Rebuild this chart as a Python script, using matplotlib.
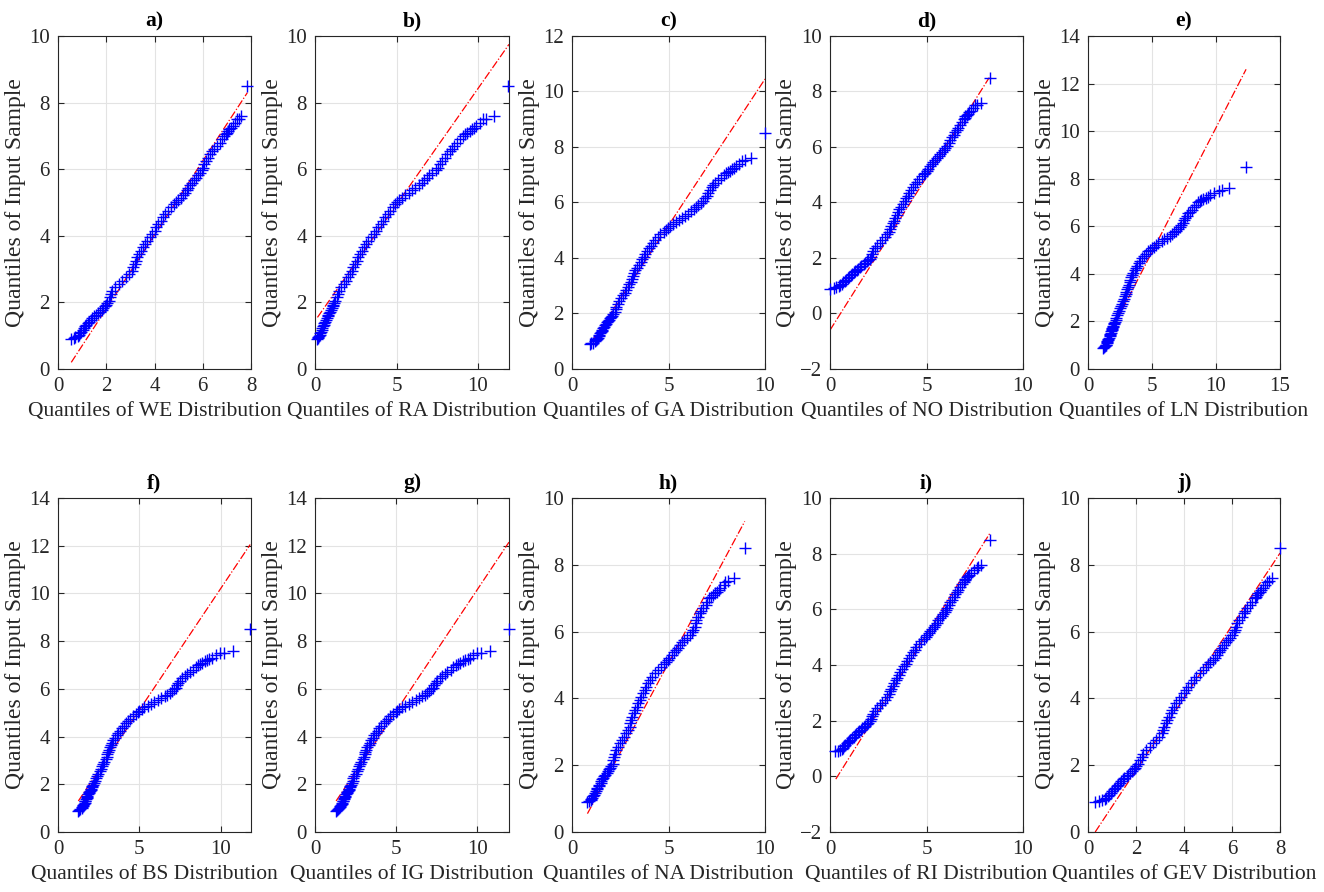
import matplotlib
matplotlib.use('Agg')
import matplotlib.pyplot as plt
import numpy as np

plt.rcParams['font.family'] = ['Liberation Serif', 'DejaVu Serif']

# sorted sample quantiles (shared by all panels)
sample_q = [0.90, 0.92, 0.95, 1.00, 1.03, 1.08, 1.12, 1.18, 1.22, 1.28,
            1.32, 1.38, 1.42, 1.48, 1.52, 1.58, 1.62, 1.68, 1.72, 1.78,
            1.82, 1.88, 1.92, 1.98, 2.05, 2.15, 2.25, 2.35, 2.45, 2.55,
            2.65, 2.75, 2.85, 2.95, 3.05, 3.15, 3.25, 3.35, 3.45, 3.55,
            3.65, 3.75, 3.85, 3.95, 4.05, 4.15, 4.25, 4.35, 4.45, 4.55,
            4.65, 4.75, 4.85, 4.95, 5.02, 5.08, 5.15, 5.22, 5.30, 5.38,
            5.45, 5.52, 5.60, 5.68, 5.75, 5.82, 5.90, 5.98, 6.05, 6.15,
            6.25, 6.35, 6.45, 6.55, 6.62, 6.70, 6.80, 6.90, 7.00, 7.05,
            7.10, 7.15, 7.20, 7.25, 7.30, 7.40, 7.50, 7.52, 7.60, 8.50]

# theoretical quantiles for each distribution (same order as sample_q)
q_we = [0.55, 0.65, 0.72, 0.82, 0.88, 0.93, 0.97, 1.02, 1.06, 1.12,
        1.17, 1.23, 1.28, 1.36, 1.42, 1.51, 1.57, 1.66, 1.73, 1.82,
        1.87, 1.93, 1.97, 2.03, 2.1, 2.15, 2.18, 2.25, 2.38, 2.52,
        2.67, 2.82, 2.95, 3.05, 3.12, 3.18, 3.23, 3.28, 3.35, 3.43,
        3.51, 3.59, 3.7, 3.8, 3.9, 4.0, 4.07, 4.15, 4.25, 4.35,
        4.45, 4.56, 4.68, 4.82, 4.91, 4.99, 5.08, 5.17, 5.25, 5.33,
        5.4, 5.47, 5.55, 5.64, 5.73, 5.82, 5.9, 5.97, 6.02, 6.07,
        6.12, 6.2, 6.3, 6.4, 6.48, 6.58, 6.7, 6.8, 6.9, 6.95,
        7.0, 7.05, 7.1, 7.17, 7.25, 7.32, 7.4, 7.5, 7.6, 7.85]
q_ra = [0.12, 0.17, 0.2, 0.25, 0.28, 0.33, 0.37, 0.41, 0.45, 0.5,
        0.53, 0.58, 0.62, 0.67, 0.71, 0.77, 0.81, 0.87, 0.91, 0.97,
        1.02, 1.08, 1.12, 1.18, 1.24, 1.32, 1.4, 1.5, 1.62, 1.75,
        1.88, 2.0, 2.12, 2.25, 2.35, 2.45, 2.55, 2.65, 2.75, 2.87,
        3.0, 3.12, 3.28, 3.43, 3.62, 3.75, 3.88, 4.02, 4.17, 4.32,
        4.47, 4.62, 4.78, 4.93, 5.03, 5.15, 5.35, 5.55, 5.75, 5.95,
        6.15, 6.35, 6.55, 6.7, 6.85, 7.0, 7.2, 7.4, 7.52, 7.65,
        7.8, 7.95, 8.12, 8.28, 8.38, 8.5, 8.7, 8.9, 9.1, 9.22,
        9.35, 9.5, 9.65, 9.78, 9.9, 10.1, 10.3, 10.5, 10.95, 11.85]
q_ga = [0.95, 1.0, 1.08, 1.18, 1.22, 1.28, 1.33, 1.38, 1.41, 1.46,
        1.5, 1.54, 1.57, 1.62, 1.66, 1.72, 1.76, 1.82, 1.86, 1.92,
        1.96, 2.02, 2.06, 2.15, 2.22, 2.27, 2.3, 2.36, 2.45, 2.55,
        2.65, 2.75, 2.82, 2.9, 2.97, 3.05, 3.12, 3.18, 3.22, 3.28,
        3.36, 3.45, 3.55, 3.65, 3.72, 3.8, 3.88, 3.97, 4.08, 4.2,
        4.32, 4.45, 4.58, 4.75, 4.88, 4.98, 5.1, 5.25, 5.4, 5.55,
        5.7, 5.85, 6.0, 6.15, 6.3, 6.42, 6.53, 6.67, 6.78, 6.88,
        6.98, 7.05, 7.15, 7.25, 7.32, 7.42, 7.55, 7.7, 7.9, 8.0,
        8.1, 8.2, 8.3, 8.4, 8.5, 8.65, 8.8, 8.95, 9.25, 10.0]
q_no = [0.0, 0.2, 0.3, 0.45, 0.52, 0.62, 0.68, 0.76, 0.82, 0.92,
        0.98, 1.08, 1.14, 1.25, 1.32, 1.4, 1.46, 1.55, 1.62, 1.75,
        1.82, 1.92, 1.98, 2.05, 2.12, 2.18, 2.24, 2.32, 2.45, 2.6,
        2.72, 2.85, 2.95, 3.05, 3.12, 3.18, 3.25, 3.3, 3.38, 3.45,
        3.53, 3.6, 3.7, 3.8, 3.88, 3.95, 4.02, 4.1, 4.2, 4.3,
        4.4, 4.5, 4.62, 4.75, 4.85, 4.93, 5.02, 5.1, 5.2, 5.28,
        5.35, 5.45, 5.55, 5.64, 5.72, 5.8, 5.9, 5.98, 6.05, 6.15,
        6.22, 6.3, 6.4, 6.5, 6.56, 6.62, 6.72, 6.82, 6.92, 6.97,
        7.02, 7.08, 7.14, 7.22, 7.3, 7.4, 7.5, 7.6, 7.8, 8.3]
q_ln = [1.2, 1.27, 1.33, 1.4, 1.43, 1.47, 1.49, 1.52, 1.55, 1.6,
        1.63, 1.68, 1.71, 1.74, 1.76, 1.82, 1.85, 1.88, 1.91, 1.96,
        1.99, 2.03, 2.06, 2.1, 2.17, 2.22, 2.27, 2.34, 2.4, 2.48,
        2.57, 2.65, 2.72, 2.8, 2.88, 2.95, 3.0, 3.05, 3.1, 3.17,
        3.25, 3.3, 3.38, 3.45, 3.55, 3.65, 3.75, 3.85, 3.98, 4.1,
        4.25, 4.4, 4.55, 4.72, 4.85, 4.97, 5.15, 5.3, 5.5, 5.75,
        5.95, 6.2, 6.4, 6.6, 6.75, 6.9, 7.05, 7.18, 7.28, 7.4,
        7.48, 7.55, 7.7, 7.85, 7.98, 8.12, 8.3, 8.45, 8.6, 8.72,
        8.85, 9.0, 9.2, 9.35, 9.5, 9.85, 10.2, 10.5, 11.0, 12.35]
q_bs = [1.25, 1.32, 1.38, 1.45, 1.48, 1.52, 1.56, 1.6, 1.63, 1.66,
        1.68, 1.73, 1.76, 1.78, 1.81, 1.86, 1.9, 1.93, 1.96, 2.02,
        2.05, 2.08, 2.11, 2.16, 2.22, 2.28, 2.33, 2.4, 2.47, 2.55,
        2.62, 2.7, 2.77, 2.85, 2.92, 2.98, 3.03, 3.08, 3.13, 3.2,
        3.27, 3.33, 3.4, 3.5, 3.6, 3.7, 3.8, 3.92, 4.03, 4.17,
        4.3, 4.45, 4.6, 4.78, 4.92, 5.0, 5.15, 5.3, 5.5, 5.72,
        5.92, 6.15, 6.35, 6.55, 6.7, 6.85, 7.0, 7.12, 7.22, 7.3,
        7.38, 7.48, 7.62, 7.78, 7.95, 8.1, 8.3, 8.45, 8.6, 8.72,
        8.85, 9.0, 9.15, 9.3, 9.45, 9.7, 9.95, 10.2, 10.75, 11.8]
q_ig = [1.3, 1.37, 1.43, 1.5, 1.53, 1.57, 1.6, 1.64, 1.67, 1.71,
        1.73, 1.77, 1.8, 1.84, 1.87, 1.91, 1.95, 1.98, 2.02, 2.07,
        2.1, 2.13, 2.17, 2.2, 2.26, 2.32, 2.37, 2.43, 2.5, 2.57,
        2.64, 2.71, 2.78, 2.86, 2.93, 2.99, 3.05, 3.1, 3.16, 3.23,
        3.3, 3.37, 3.45, 3.55, 3.65, 3.75, 3.86, 3.97, 4.08, 4.22,
        4.37, 4.5, 4.65, 4.83, 4.97, 5.05, 5.2, 5.35, 5.55, 5.77,
        5.97, 6.2, 6.4, 6.6, 6.75, 6.9, 7.05, 7.17, 7.27, 7.35,
        7.43, 7.53, 7.68, 7.85, 8.0, 8.15, 8.35, 8.5, 8.7, 8.82,
        8.95, 9.1, 9.25, 9.4, 9.55, 9.75, 10.0, 10.25, 10.8, 11.95]
q_na = [0.8, 0.9, 0.97, 1.0, 1.03, 1.08, 1.12, 1.18, 1.22, 1.28,
        1.32, 1.38, 1.42, 1.48, 1.52, 1.58, 1.62, 1.68, 1.73, 1.82,
        1.87, 1.93, 1.97, 2.03, 2.1, 2.15, 2.18, 2.23, 2.3, 2.38,
        2.48, 2.6, 2.72, 2.82, 2.92, 2.98, 3.03, 3.08, 3.13, 3.2,
        3.28, 3.35, 3.43, 3.5, 3.6, 3.7, 3.77, 3.85, 3.95, 4.05,
        4.15, 4.3, 4.45, 4.6, 4.75, 4.85, 4.95, 5.05, 5.18, 5.3,
        5.38, 5.47, 5.58, 5.7, 5.8, 5.95, 6.1, 6.2, 6.28, 6.35,
        6.4, 6.45, 6.52, 6.62, 6.7, 6.8, 6.92, 7.02, 7.12, 7.2,
        7.3, 7.4, 7.5, 7.6, 7.68, 7.85, 7.95, 8.1, 8.4, 8.95]
q_ri = [0.25, 0.4, 0.5, 0.6, 0.65, 0.72, 0.8, 0.87, 0.92, 1.0,
        1.06, 1.15, 1.22, 1.3, 1.37, 1.45, 1.5, 1.6, 1.65, 1.75,
        1.82, 1.92, 1.98, 2.06, 2.12, 2.18, 2.24, 2.32, 2.45, 2.6,
        2.72, 2.85, 2.95, 3.05, 3.12, 3.18, 3.25, 3.32, 3.4, 3.48,
        3.55, 3.63, 3.73, 3.83, 3.92, 4.0, 4.08, 4.18, 4.28, 4.38,
        4.48, 4.6, 4.72, 4.85, 4.95, 5.02, 5.12, 5.2, 5.3, 5.38,
        5.45, 5.52, 5.6, 5.7, 5.78, 5.85, 5.95, 6.03, 6.08, 6.16,
        6.22, 6.3, 6.4, 6.5, 6.56, 6.63, 6.72, 6.82, 6.92, 6.97,
        7.02, 7.08, 7.14, 7.22, 7.3, 7.45, 7.6, 7.65, 7.8, 8.3]
q_gev = [0.3, 0.45, 0.6, 0.7, 0.75, 0.82, 0.88, 0.95, 1.0, 1.08,
         1.12, 1.2, 1.25, 1.33, 1.38, 1.46, 1.52, 1.62, 1.67, 1.75,
         1.82, 1.9, 1.95, 2.02, 2.1, 2.18, 2.23, 2.3, 2.42, 2.58,
         2.72, 2.85, 2.97, 3.07, 3.13, 3.18, 3.23, 3.28, 3.36, 3.44,
         3.51, 3.58, 3.68, 3.78, 3.88, 3.98, 4.08, 4.18, 4.28, 4.4,
         4.52, 4.65, 4.78, 4.92, 5.02, 5.1, 5.2, 5.3, 5.38, 5.45,
         5.52, 5.58, 5.65, 5.73, 5.82, 5.92, 6.02, 6.08, 6.12, 6.17,
         6.22, 6.3, 6.4, 6.5, 6.56, 6.64, 6.74, 6.85, 6.95, 7.0,
         7.05, 7.1, 7.15, 7.22, 7.3, 7.38, 7.45, 7.55, 7.65, 8.0]

# reference line end points (x0, y0, x1, y1)
ref_lines = [(0.55, 0.2, 7.85, 8.3), (0.15, 1.55, 11.9, 9.75), (1.0, 0.95, 10.0, 10.45),
             (0.0, -0.6, 8.25, 8.5), (1.25, 1.0, 12.35, 12.6), (1.25, 1.3, 11.8, 12.05),
             (1.3, 1.3, 11.95, 12.15), (0.8, 0.55, 8.95, 9.3), (0.3, -0.1, 8.3, 8.75),
             (0.3, 0.0, 8.0, 8.35)]

panel_tags = ['a)', 'b)', 'c)', 'd)', 'e)', 'f)', 'g)', 'h)', 'i)', 'j)']
dist_names = ['WE', 'RA', 'GA', 'NO', 'LN', 'BS', 'IG', 'NA', 'RI', 'GEV']
theo_q = [q_we, q_ra, q_ga, q_no, q_ln, q_bs, q_ig, q_na, q_ri, q_gev]
x_lims = [(0, 8), (0, 11.9), (0, 10), (0, 10), (0, 15),
          (0, 11.85), (0, 11.95), (0, 10), (0, 10), (0, 8)]
y_lims = [(0, 10), (0, 10), (0, 12), (-2, 10), (0, 14),
          (0, 14), (0, 14), (0, 10), (-2, 10), (0, 10)]
x_steps = [2, 5, 5, 5, 5, 5, 5, 5, 5, 2]

W, H = 1324, 892
fig = plt.figure(figsize=(W / 100, H / 100), dpi=100)

col_left = [58, 315, 572, 830, 1088]
col_width = [193, 194, 193, 193, 192]
row_top = [36, 498]
row_h = [333, 334]

for k in range(10):
    r, c = divmod(k, 5)
    ax = fig.add_axes([col_left[c] / W, 1 - (row_top[r] + row_h[r]) / H,
                       col_width[c] / W, row_h[r] / H])
    x0, y0, x1, y1 = ref_lines[k]
    ax.plot([x0, x1], [y0, y1], color='red', linestyle='-.', linewidth=0.9, zorder=2)
    # markers are not clipped at the box, like the original
    ax.plot(theo_q[k], sample_q, linestyle='none', marker='+', color='blue',
            markersize=8.5, markeredgewidth=1.0, zorder=3, clip_on=False)
    ax.set_xlim(*x_lims[k])
    ax.set_ylim(*y_lims[k])
    ax.set_xticks(np.arange(0, x_lims[k][1] + 0.01, x_steps[k]))
    ax.set_yticks(np.arange(y_lims[k][0], y_lims[k][1] + 0.01, 2))
    ax.grid(True, color='#e3e3e3', linewidth=0.8)
    ax.set_axisbelow(True)
    ax.tick_params(direction='in', labelsize=15, colors='#262626', length=4,
                   top=True, right=True, pad=6)
    for s in ax.spines.values():
        s.set_color('#262626')
        s.set_linewidth(0.8)
    ax.set_title(panel_tags[k], fontsize=15.5, fontweight='bold', pad=7)
    ax.set_xlabel('Quantiles of %s Distribution' % dist_names[k], fontsize=15.5,
                  color='#262626', labelpad=4)
    ax.set_ylabel('Quantiles of Input Sample', fontsize=17, color='#262626', labelpad=2)

fig.savefig('out.png', dpi=100)
